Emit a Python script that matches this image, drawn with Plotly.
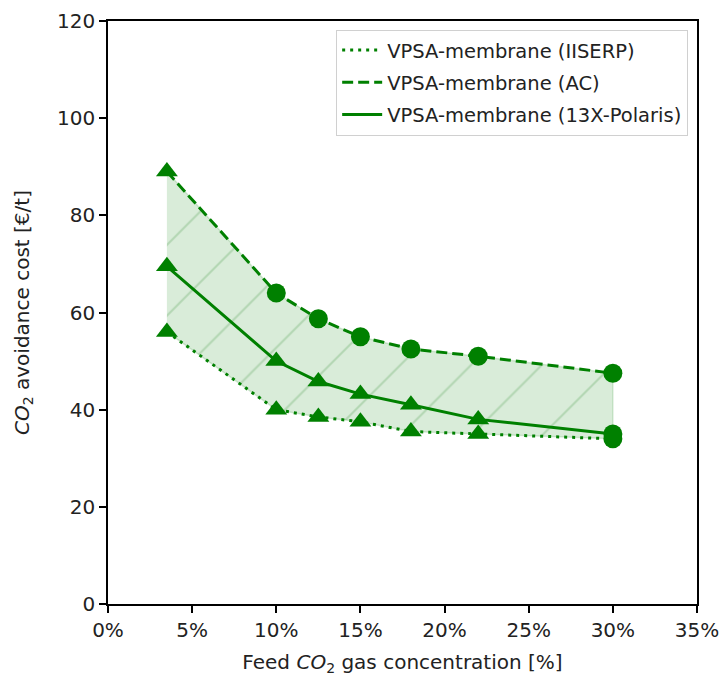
import plotly.graph_objects as go

conc = [3.5, 10, 12.5, 15, 18, 22, 30]
cost_iiserp = [56, 40, 38.5, 37.5, 35.5, 35, 34]
cost_ac = [89, 64, 58.7, 55, 52.5, 51, 47.5]
cost_13x = [69.5, 50, 45.8, 43.2, 41, 38, 35]
sym_iiserp = ["triangle-up"] * 6 + ["circle"]
sym_ac = ["triangle-up"] + ["circle"] * 6
sym_13x = ["triangle-up"] * 6 + ["circle"]

GREEN = "#008000"
FONT = "DejaVu Sans"

fig = go.Figure()

# shaded band between AC (upper) and IISERP (lower)
fig.add_trace(go.Scatter(
    x=conc + conc[::-1], y=cost_ac + cost_iiserp[::-1],
    fill="toself", mode="lines",
    line=dict(color="rgba(0,128,0,0.15)", width=1.5),
    fillcolor="rgb(217,236,217)",
    fillpattern=dict(shape="/", size=50, solidity=0.04,
                     fgcolor="rgb(178,214,178)", bgcolor="rgb(217,236,217)", fgopacity=1),
    showlegend=False, hoverinfo="skip"))

fig.add_trace(go.Scatter(x=conc, y=cost_iiserp, mode="lines",
                         line=dict(color=GREEN, width=3, dash="3px,5px"),
                         name="VPSA-membrane (IISERP)", legendgroup="a"))
fig.add_trace(go.Scatter(x=conc, y=cost_ac, mode="lines",
                         line=dict(color=GREEN, width=3, dash="11px,5px"),
                         name="VPSA-membrane (AC)", legendgroup="b"))
fig.add_trace(go.Scatter(x=conc, y=cost_13x, mode="lines",
                         line=dict(color=GREEN, width=3),
                         name="VPSA-membrane (13X-Polaris)", legendgroup="c"))

for ys, syms in [(cost_iiserp, sym_iiserp), (cost_ac, sym_ac), (cost_13x, sym_13x)]:
    fig.add_trace(go.Scatter(x=conc, y=ys, mode="markers",
                             marker=dict(color=GREEN, opacity=1,
                                         size=[19 if s == "triangle-up" else 19 for s in syms],
                                         symbol=syms, line=dict(width=0)),
                             showlegend=False, hoverinfo="skip"))

axis_common = dict(showline=True, linecolor="black", linewidth=1.5, mirror=True,
                   ticks="outside", ticklen=7, tickwidth=1.5, tickcolor="black",
                   showgrid=False, zeroline=False,
                   tickfont=dict(family=FONT, size=20, color="#222"))

fig.update_xaxes(range=[0, 35], dtick=5, tick0=0, ticksuffix="%",
                 title=dict(text="Feed <i>CO</i><sub>2</sub> gas concentration [%]",
                            font=dict(family=FONT, size=20, color="#222"), standoff=14),
                 **axis_common)
fig.update_yaxes(range=[0, 120], dtick=20, tick0=0,
                 title=dict(text="<i>CO</i><sub>2</sub> avoidance cost [€/t]",
                            font=dict(family=FONT, size=20, color="#222"), standoff=22),
                 **axis_common)

fig.update_layout(
    width=723, height=677,
    margin=dict(l=108, r=26, t=21, b=73, autoexpand=False),
    plot_bgcolor="white", paper_bgcolor="white",
    font=dict(family=FONT, size=20, color="#222"),
    legend=dict(x=0.985, y=0.985, xanchor="right", yanchor="top",
                bgcolor="rgba(255,255,255,0.8)", bordercolor="#d0d0d0", borderwidth=1,
                font=dict(family=FONT, size=19.5, color="#222"),
                tracegroupgap=4, itemwidth=40),
)

fig.write_html("out.html")
